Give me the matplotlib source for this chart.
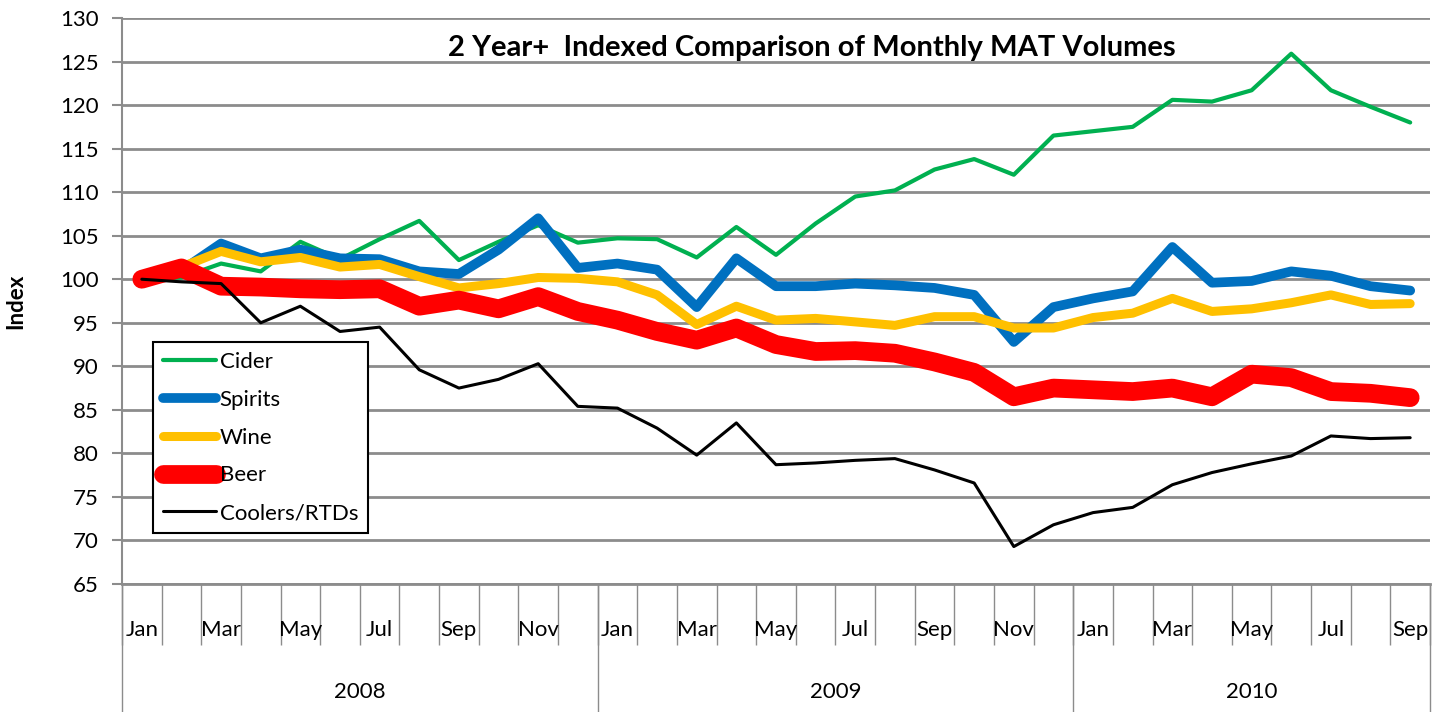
import numpy as np
import matplotlib
matplotlib.use("Agg")
import matplotlib.pyplot as plt
import matplotlib.transforms as mtransforms

plt.rcParams['font.family'] = ['Lato', 'DejaVu Sans']

# monthly MAT volume index, Jan 2008 .. Sep 2010
months = ["Jan", "Feb", "Mar", "Apr", "May", "Jun",
          "Jul", "Aug", "Sep", "Oct", "Nov", "Dec"]
years = ["2008", "2009", "2010"]
n_months = 33

cider = [100.0, 100.2, 101.8, 100.9, 104.3, 102.3, 104.6, 106.7, 102.2, 104.3, 106.2, 104.2,
         104.7, 104.6, 102.5, 106.0, 102.8, 106.4, 109.5, 110.2, 112.6, 113.8, 112.0, 116.5,
         117.0, 117.5, 120.6, 120.4, 121.7, 125.9, 121.7, 119.8, 118.0]
spirits = [100.0, 101.0, 104.1, 102.4, 103.4, 102.4, 102.3, 100.9, 100.6, 103.4, 107.0, 101.3,
           101.8, 101.1, 96.8, 102.4, 99.2, 99.2, 99.5, 99.3, 99.0, 98.2, 92.8, 96.8,
           97.8, 98.6, 103.7, 99.6, 99.8, 100.9, 100.4, 99.2, 98.7]
wine = [100.0, 101.4, 103.2, 102.0, 102.5, 101.4, 101.7, 100.3, 99.0, 99.5, 100.2, 100.1,
        99.7, 98.2, 94.8, 96.9, 95.3, 95.5, 95.1, 94.7, 95.7, 95.7, 94.4, 94.4,
        95.6, 96.1, 97.8, 96.3, 96.6, 97.3, 98.2, 97.1, 97.2]
beer = [100.0, 101.3, 99.2, 99.1, 98.9, 98.8, 98.9, 96.9, 97.6, 96.6, 98.0, 96.3,
        95.3, 94.0, 93.0, 94.4, 92.5, 91.7, 91.8, 91.5, 90.5, 89.3, 86.5, 87.5,
        87.3, 87.1, 87.5, 86.5, 89.1, 88.7, 87.1, 86.9, 86.4]
coolers = [100.0, 99.7, 99.5, 95.0, 96.9, 94.0, 94.5, 89.6, 87.5, 88.5, 90.3, 85.4,
           85.2, 82.9, 79.8, 83.5, 78.7, 78.9, 79.2, 79.4, 78.1, 76.6, 69.3, 71.8,
           73.2, 73.8, 76.4, 77.8, 78.8, 79.7, 82.0, 81.7, 81.8]

series = [
    ("Cider", cider, "#00B050", 3.0),
    ("Spirits", spirits, "#0070C0", 7.0),
    ("Wine", wine, "#FFC000", 6.5),
    ("Beer", beer, "#FF0000", 13.5),
    ("Coolers/RTDs", coolers, "#000000", 2.2),
]

fig = plt.figure(figsize=(14.35, 7.12), dpi=100)
ax = fig.add_axes([122 / 1435, 1 - 584 / 712, 1308 / 1435, 566 / 712])

x = np.arange(n_months)
for name, vals, color, lw in series:
    ax.plot(x, vals, color=color, lw=lw, label=name,
            solid_capstyle="round", solid_joinstyle="round")

ax.set_xlim(-0.5, n_months - 0.5)
ax.set_ylim(65, 130)
ax.set_yticks(np.arange(65, 131, 5))
ax.yaxis.grid(True, color="#8c8c8c", lw=2)
ax.set_axisbelow(True)

grey = "#8c8c8c"
for side in ["top", "right"]:
    ax.spines[side].set_visible(False)
ax.spines["left"].set_color(grey)
ax.spines["left"].set_linewidth(1.5)
ax.spines["bottom"].set_color(grey)
ax.spines["bottom"].set_linewidth(2)

ax.tick_params(axis="y", length=7, width=1.5, color=grey, labelsize=16, pad=10)

# month separators as major ticks, month labels as minor ticks at centres
ax.set_xticks(np.arange(n_months + 1) - 0.5)
ax.set_xticklabels([])
ax.tick_params(axis="x", which="major", length=44, width=1, color=grey)
ax.set_xticks(x, minor=True)
month_labels = [months[i % 12] if i % 2 == 0 else "" for i in range(n_months)]
ax.set_xticklabels(month_labels, minor=True)
ax.tick_params(axis="x", which="minor", length=0, labelsize=16, pad=26)

# year groups
trans = mtransforms.blended_transform_factory(ax.transData, ax.transAxes)
for b in [-0.5, 11.5, 23.5, n_months - 0.5]:
    ax.plot([b, b], [0, -0.226], transform=trans, color=grey, lw=1, clip_on=False)
year_centres = [5.5, 17.5, (23.5 + n_months - 0.5) / 2]
for yr, xc in zip(years, year_centres):
    ax.text(xc, -0.19, yr, transform=trans, ha="center", va="center", fontsize=16)

ax.set_ylabel("Index", fontsize=16, fontweight="bold", labelpad=24)

fig.text(812 / 1435, 1 - 48 / 712, "2 Year+  Indexed Comparison of Monthly MAT Volumes",
         ha="center", va="center", fontsize=21, fontweight="bold")

leg = ax.legend(loc="upper left", bbox_to_anchor=(0.0237, 0.4276), borderaxespad=0,
                fontsize=16, handlelength=2.4, handletextpad=0.15, labelspacing=0.8,
                borderpad=0.45, fancybox=False, framealpha=1)
leg.get_frame().set_edgecolor("black")
leg.get_frame().set_linewidth(1.5)

fig.savefig("out.png", dpi=100)
